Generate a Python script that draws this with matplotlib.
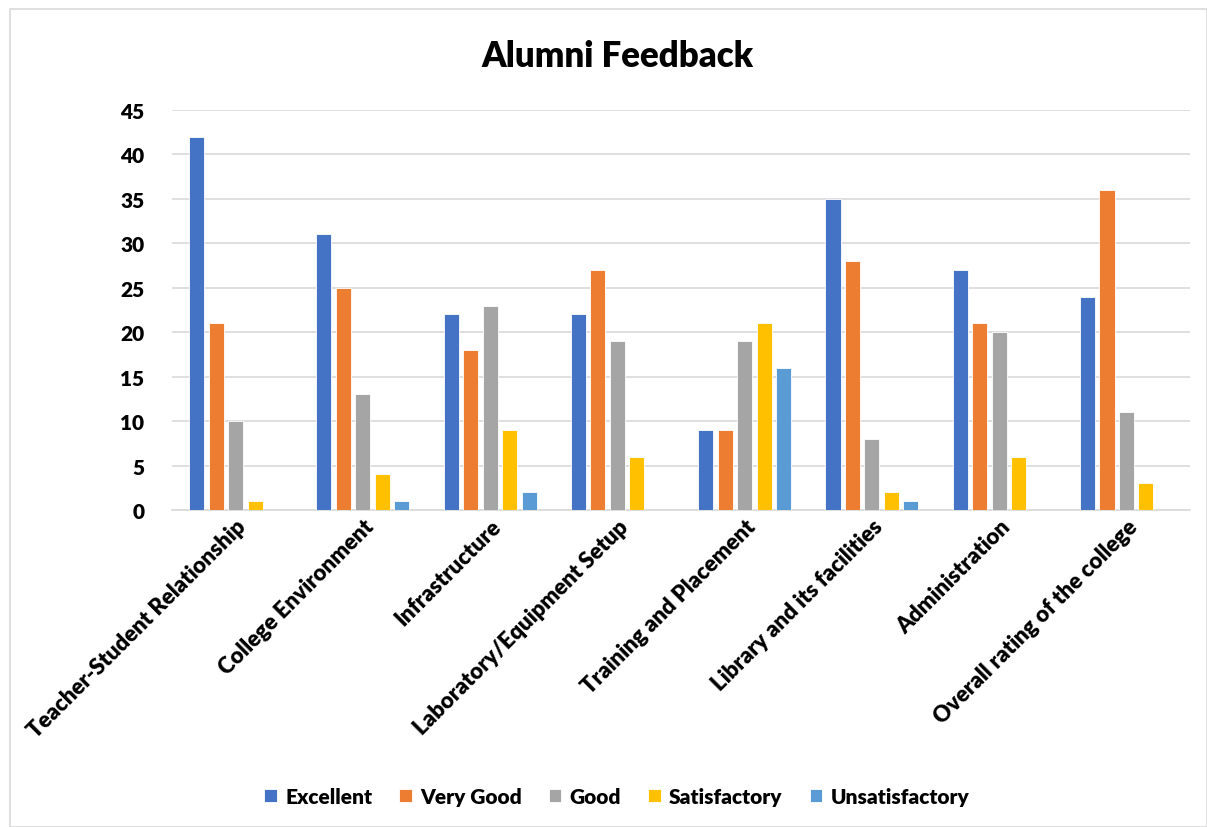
import matplotlib
matplotlib.use("Agg")
import matplotlib.pyplot as plt
import numpy as np
from matplotlib.patches import Rectangle

categories = ["Teacher-Student Relationship", "College Environment", "Infrastructure",
              "Laboratory/Equipment Setup", "Training and Placement", "Library and its facilities",
              "Administration", "Overall rating of the college"]
series_names = ["Excellent", "Very Good", "Good", "Satisfactory", "Unsatisfactory"]
excellent = [42, 31, 22, 22, 9, 35, 27, 24]
very_good = [21, 25, 18, 27, 9, 28, 21, 36]
good = [10, 13, 23, 19, 19, 8, 20, 11]
satisfactory = [1, 4, 9, 6, 21, 2, 6, 3]
unsatisfactory = [0, 1, 2, 0, 16, 1, 0, 0]
colors = ["#4472C4", "#ED7D31", "#A5A5A5", "#FFC000", "#5B9BD5"]

plt.rcParams['font.family'] = ['Lato', 'DejaVu Sans']
plt.rcParams['font.weight'] = 'heavy'

fig = plt.figure(figsize=(12.07, 8.28), dpi=100)
ax = fig.add_axes([0.1425, 0.3829, 0.8435, 0.4831])

x = np.arange(len(categories))
step = 0.153
width = 0.118
data = [excellent, very_good, good, satisfactory, unsatisfactory]
for i, (name, vals) in enumerate(zip(series_names, data)):
    ax.bar(x + (i - 2) * step, vals, width, color=colors[i], label=name,
           edgecolor="white", linewidth=0.6, zorder=3)

ax.set_xlim(-0.5, len(categories) - 0.5)
ax.set_ylim(0, 45)
ax.set_yticks(range(0, 46, 5))
ax.tick_params(axis='y', length=0, labelsize=15, pad=20)
ax.tick_params(axis='x', length=0, labelsize=16, pad=4)
ax.set_xticks(x)
ax.set_xticklabels(categories, rotation=45, ha='right', rotation_mode='anchor')
ax.grid(axis='y', color="#D9D9D9", linewidth=1.2, zorder=0)
for s in ['top', 'right', 'left']:
    ax.spines[s].set_visible(False)
ax.spines['bottom'].set_color("#D9D9D9")
ax.spines['bottom'].set_linewidth(1.2)

fig.text(0.5115, 0.932, "Alumni Feedback", ha='center', va='center', fontsize=25, fontweight='heavy')

fig.legend(loc='center', bbox_to_anchor=(0.511, 0.037), ncol=5, frameon=False,
           fontsize=15, handlelength=0.6, handleheight=0.6, handletextpad=0.4, columnspacing=1.3)

fig.patches.append(Rectangle((10 / 1207, 0), 1 - 10 / 1207, 1 - 10 / 828, transform=fig.transFigure,
                             fill=False, edgecolor="#D9D9D9", linewidth=1.2))

fig.savefig("out.png", dpi=100)
